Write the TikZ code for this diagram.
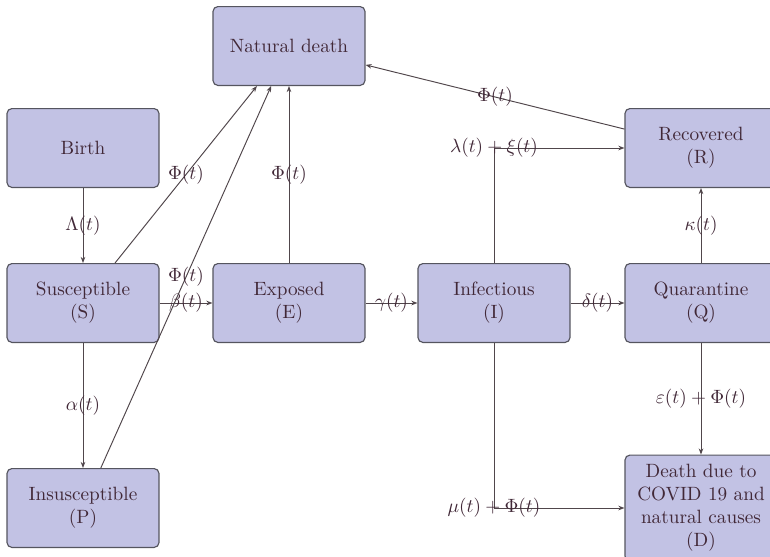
\documentclass[tikz,border=0pt]{standalone}
\usetikzlibrary{arrows.meta}
\definecolor{boxfill}{RGB}{194,194,228}
\definecolor{boxline}{RGB}{85,85,95}
\definecolor{txt}{RGB}{65,40,55}
\definecolor{edge}{RGB}{80,70,75}
\begin{document}
\begin{tikzpicture}[x=0.52pt,y=-0.52pt,
  box/.style={draw=boxline,fill=boxfill,rounded corners=2.5pt,line width=0.6pt,
    minimum width=79pt,minimum height=41pt,align=center,text=txt,inner sep=2pt},
  tallbox/.style={box,minimum height=55pt},
  flow/.style={draw=edge,line width=0.5pt,-{Stealth[length=3.2pt,width=2.4pt]}},
  lab/.style={text=txt,inner sep=1pt}]
\useasboundingbox (0,0) rectangle (770,557);
\clip (0,0) rectangle (770,557);
\node[box] (N) at (289,46) {Natural death};
\node[box] (B) at (83,148) {Birth};
\node[box] (S) at (83,303) {Susceptible\\(S)};
\node[box] (P) at (83,508) {Insusceptible\\(P)};
\node[box] (E) at (289,303) {Exposed\\(E)};
\node[box] (I) at (494,303) {Infectious\\(I)};
\node[box] (Q) at (701,303) {Quarantine\\(Q)};
\node[box] (R) at (701,148) {Recovered\\(R)};
\node[tallbox] (D) at (701,508) {Death due to\\COVID 19 and\\natural causes\\(D)};

\draw[flow] (B) -- node[lab] {$\Lambda(t)$} (S);
\draw[flow] (S) -- node[lab] {$\alpha(t)$} (P);
\draw[flow] (S) -- node[lab] {$\beta(t)$} (E);
\draw[flow] (E) -- node[lab] {$\gamma(t)$} (I);
\draw[flow] (I) -- node[lab] {$\delta(t)$} (Q);
\draw[flow] (Q) -- node[lab] {$\kappa(t)$} (R);
\draw[flow] (Q) -- node[lab] {$\varepsilon(t)+\Phi(t)$} (D);
\draw[flow] (S) -- node[lab] {$\Phi(t)$} (N);
\draw[flow] (P) -- node[lab] {$\Phi(t)$} (N);
\draw[flow] (E) -- node[lab] {$\Phi(t)$} (N);
\draw[flow] (R) -- node[lab] {$\Phi(t)$} (N);
\draw[flow] (I) |- node[lab] {$\lambda(t)+\xi(t)$} (R);
\draw[flow] (I) |- node[lab] {$\mu(t)+\Phi(t)$} (D);
\end{tikzpicture}
\end{document}
